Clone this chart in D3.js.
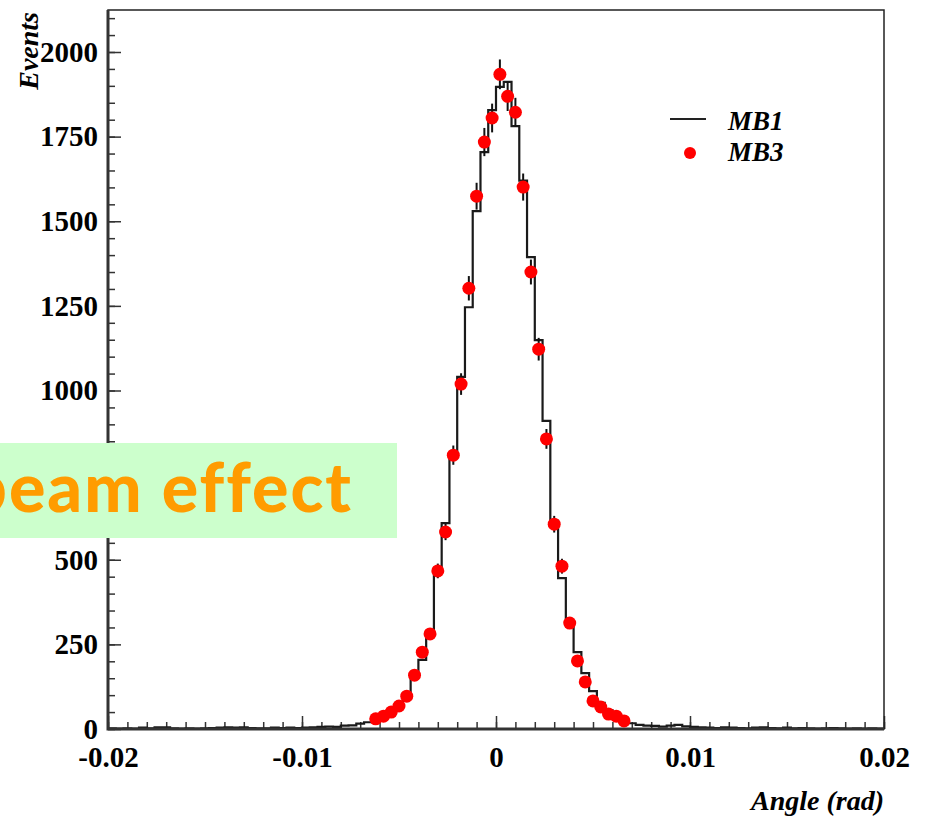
<!DOCTYPE html>
<meta charset="utf-8">
<html>
<head>
  <title>Angle distribution MB1 / MB3</title>
  <style>
    body { margin: 0; background: #fff; }
    svg { width: 928px; height: 817px; display: block; }
    .tick text { font-family: 'Liberation Serif', 'Times New Roman', serif; font-weight: bold; font-size: 29px; fill: #000; }
    .tick line { stroke: #333; stroke-width: 1.5px; }
    .title { font-family: 'Liberation Serif', 'Times New Roman', serif; font-style: italic; font-weight: bold; fill: #000; }
  </style>
  <script src="https://d3js.org/d3.v7.min.js"></script>
</head>
<body>
  <svg></svg>
  <script>
    // histogram bins: 100 bins of 0.0004 rad from -0.02 to 0.02
    var binLo = -0.02, binWidth = 0.0004;

    // MB1 counts per bin
    var mb1 = [
      2, 1, 2, 1, 4, 2, 5, 5, 2, 1,
      2, 1, 2, 3, 4, 5, 4, 5, 3, 2,
      2, 4, 3, 4, 3, 4, 5, 6, 7, 6,
      10, 11, 16, 20, 27, 38, 52, 71, 106, 153,
      204, 283, 463, 608, 803, 1040, 1246, 1530, 1704, 1828,
      1897, 1912, 1781, 1620, 1394, 1149, 910, 615, 446, 316,
      227, 165, 112, 77, 56, 40, 28, 17, 12, 10,
      9, 7, 10, 12, 8, 6, 5, 4, 3, 5,
      4, 3, 2, 4, 5, 3, 2, 4, 2, 3,
      2, 1, 2, 3, 2, 1, 2, 1, 2, 1
    ];

    // MB3 counts, bins 34..66 (centres -0.0062 .. 0.0066)
    var mb3First = 34;
    var mb3 = [
      30, 38, 50, 68, 97, 159, 227, 281, 467, 582,
      809, 1019, 1302, 1574, 1734, 1805, 1934, 1869, 1822, 1601,
      1350, 1122, 857, 605, 481, 313, 201, 139, 83, 65,
      44, 38, 24
    ];

    var xTicks = [-0.02, -0.01, 0, 0.01, 0.02];
    var yTicks = [0, 250, 500, 750, 1000, 1250, 1500, 1750, 2000];

    var svg = d3.select("svg");

    // plot frame (window.top is reserved, so use a box object)
    var box = {left: 108, right: 884, top: 10, bottom: 729};

    var x = d3.scaleLinear().domain([-0.02, 0.02]).range([box.left, box.right]);
    var y = d3.scaleLinear().domain([0, 2000]).range([box.bottom, 52]);

    svg.append("clipPath").attr("id", "plot")
      .append("rect")
        .attr("x", box.left).attr("y", box.top)
        .attr("width", box.right - box.left).attr("height", box.bottom - box.top);

    // minor ticks
    svg.append("g")
      .attr("transform", "translate(" + box.left + ",0)")
      .call(d3.axisLeft(y).tickValues(d3.range(0, 2101, 50)).tickSize(-7).tickFormat(""))
      .call(function(g) { g.select(".domain").remove(); });

    svg.append("g")
      .attr("transform", "translate(0," + box.bottom + ")")
      .call(d3.axisBottom(x).tickValues(d3.range(-20, 21).map(function(k) { return k / 1000; })).tickSize(-7).tickFormat(""))
      .call(function(g) { g.select(".domain").remove(); });

    // major ticks + labels (750 sits under the note box)
    svg.append("g")
      .attr("transform", "translate(" + box.left + ",0)")
      .call(d3.axisLeft(y).tickValues(yTicks).tickSize(-13).tickPadding(10)
        .tickFormat(function(d) { return d === 750 ? "" : String(d); }))
      .call(function(g) { g.select(".domain").remove(); });

    svg.append("g")
      .attr("transform", "translate(0," + box.bottom + ")")
      .call(d3.axisBottom(x).tickValues(xTicks).tickSize(-13).tickPadding(17).tickFormat(function(d) { return String(d); }))
      .call(function(g) { g.select(".domain").remove(); });

    // MB1 histogram outline
    var steps = mb1.map(function(v, i) { return [binLo + i * binWidth, v]; });
    steps.push([binLo + mb1.length * binWidth, mb1[mb1.length - 1]]);
    var step = d3.line()
      .x(function(d) { return x(d[0]); })
      .y(function(d) { return y(d[1]); })
      .curve(d3.curveStepAfter);
    svg.append("path")
      .attr("clip-path", "url(#plot)")
      .attr("d", step(steps))
      .attr("fill", "none")
      .attr("stroke", "#1a1a1a")
      .attr("stroke-width", 2.2);

    // frame
    svg.append("rect")
      .attr("x", box.left).attr("y", box.top)
      .attr("width", box.right - box.left).attr("height", box.bottom - box.top)
      .attr("fill", "none").attr("stroke", "#222").attr("stroke-width", 1.5);
    svg.append("path")
      .attr("d", "M" + box.left + "," + box.top + "V" + box.bottom + "H" + box.right)
      .attr("fill", "none").attr("stroke", "#333").attr("stroke-width", 3);

    // MB3 points with error bars
    var pts = mb3.map(function(v, i) {
      return { c: binLo + (mb3First + i + 0.5) * binWidth, v: v };
    });
    svg.append("g").selectAll("line")
      .data(pts).enter().append("line")
        .attr("x1", function(d) { return x(d.c); })
        .attr("x2", function(d) { return x(d.c); })
        .attr("y1", function(d) { return y(d.v + Math.sqrt(d.v)); })
        .attr("y2", function(d) { return y(Math.max(0, d.v - Math.sqrt(d.v))); })
        .attr("stroke", "#111").attr("stroke-width", 2);
    svg.append("g").selectAll("circle")
      .data(pts).enter().append("circle")
        .attr("cx", function(d) { return x(d.c); })
        .attr("cy", function(d) { return y(d.v); })
        .attr("r", 6.5)
        .attr("fill", "#ff0000");

    // axis titles
    svg.append("text").attr("class", "title")
      .attr("transform", "translate(38,12) rotate(-90)")
      .attr("text-anchor", "end")
      .style("font-size", "28px")
      .text("Events");
    svg.append("text").attr("class", "title")
      .attr("x", box.right).attr("y", 810)
      .attr("text-anchor", "end")
      .style("font-size", "28px")
      .text("Angle (rad)");

    // legend
    svg.append("line")
      .attr("x1", 670).attr("x2", 706).attr("y1", 119).attr("y2", 119)
      .attr("stroke", "#222").attr("stroke-width", 2);
    svg.append("circle").attr("cx", 690).attr("cy", 153).attr("r", 6).attr("fill", "#ff0000");
    svg.append("text").attr("class", "title").attr("x", 728).attr("y", 130).style("font-size", "27px").text("MB1");
    svg.append("text").attr("class", "title").attr("x", 728).attr("y", 161).style("font-size", "27px").text("MB3");

    // overlay note (left edge of the text runs off the page, as in the original)
    svg.append("rect")
      .attr("x", 0).attr("y", 443).attr("width", 397).attr("height", 95)
      .attr("fill", "#ccffcc");
    svg.append("text")
      .attr("x", 353).attr("y", 512)
      .attr("text-anchor", "end")
      .style("font-family", "'Comic Sans MS', Lato, sans-serif")
      .style("font-weight", "900")
      .style("font-size", "68px")
      .style("letter-spacing", "2px")
      .attr("fill", "#ff9c00")
      .text("beam effect");
  </script>
</body>
</html>
